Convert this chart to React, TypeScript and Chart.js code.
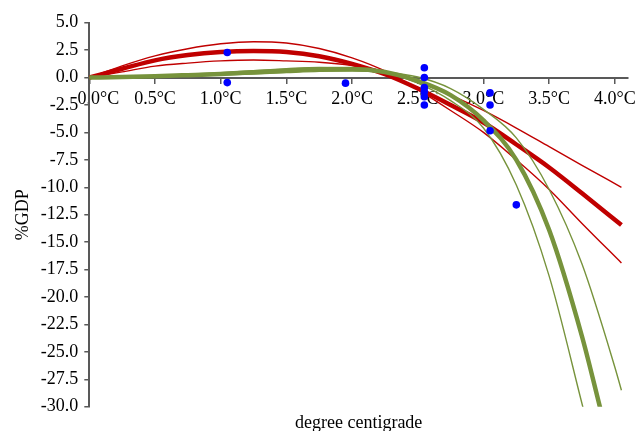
import React, { useEffect, useRef } from "react";
import { Chart, registerables } from "chart.js";

Chart.register(...registerables);

// ---- axis ticks ----
const X_TICKS = [0, 0.5, 1.0, 1.5, 2.0, 2.5, 3.0, 3.5, 4.0];
const X_TICK_LABELS = ["0.0°C", "0.5°C", "1.0°C", "1.5°C", "2.0°C", "2.5°C", "3.0°C", "3.5°C", "4.0°C"];
const Y_TICKS = [5, 2.5, 0, -2.5, -5, -7.5, -10, -12.5, -15, -17.5, -20, -22.5, -25, -27.5, -30];
const Y_TICK_LABELS = ["5.0", "2.5", "0.0", "-2.5", "-5.0", "-7.5", "-10.0", "-12.5", "-15.0", "-17.5", "-20.0", "-22.5", "-25.0", "-27.5", "-30.0"];

// ---- red damage curves (temperature, %GDP) ----
const RED_T = [0, 0.25, 0.5, 0.75, 1.0, 1.25, 1.5, 1.75, 2.0, 2.25, 2.5, 2.75, 3.0, 3.25, 3.5, 3.75, 4.05];
const RED_CENTRAL = [0, 0.8, 1.57, 2.05, 2.33, 2.42, 2.33, 1.95, 1.25, 0.3, -1.0, -2.5, -4.1, -6.1, -8.2, -10.55, -13.45];
const RED_HIGH = [0, 1.07, 1.98, 2.63, 3.08, 3.27, 3.15, 2.65, 1.8, 0.6, -1.1, -3.0, -5.0, -7.5, -10.2, -13.3, -16.9];
const RED_LOW = [0, 0.52, 1.04, 1.32, 1.52, 1.6, 1.52, 1.4, 1.1, 0.55, -0.4, -1.6, -3.0, -4.6, -6.3, -8.0, -10.0];

// ---- green damage curves ----
const GREEN_CENTRAL_T = [0, 0.25, 0.5, 0.75, 1.0, 1.25, 1.5, 1.75, 2.0, 2.25, 2.5, 2.75, 3.0, 3.25, 3.5, 3.75, 3.89];
const GREEN_CENTRAL = [0, 0.05, 0.12, 0.22, 0.33, 0.48, 0.63, 0.76, 0.78, 0.5, -0.3, -1.6, -3.9, -7.5, -13.9, -23.6, -30.2];
const GREEN_STEEP_T = [0, 0.25, 0.5, 0.75, 1.0, 1.25, 1.5, 1.75, 2.0, 2.25, 2.5, 2.75, 3.0, 3.25, 3.5, 3.76];
const GREEN_STEEP = [0, 0.07, 0.17, 0.3, 0.45, 0.62, 0.8, 0.93, 0.9, 0.5, -0.5, -2.1, -4.6, -9.8, -18.1, -30.2];
const GREEN_SHALLOW_T = [0, 0.25, 0.5, 0.75, 1.0, 1.25, 1.5, 1.75, 2.0, 2.25, 2.5, 2.75, 3.0, 3.25, 3.5, 3.75, 4.0, 4.05];
const GREEN_SHALLOW = [0, 0.02, 0.06, 0.13, 0.22, 0.33, 0.45, 0.56, 0.6, 0.48, 0.05, -1.0, -2.9, -5.5, -10.2, -17.0, -26.4, -28.5];

// ---- study estimates (blue dots) ----
const STUDY_T = [1.05, 1.05, 1.95, 2.55, 2.55, 2.55, 2.55, 2.55, 2.55, 3.05, 3.05, 3.05, 3.25];
const STUDY_GDP = [2.28, -0.46, -0.51, 0.9, 0.0, -0.9, -1.3, -1.75, -2.5, -1.4, -2.5, -4.85, -11.6];

const RED = "#C00000";
const GREEN = "#77933C";
const BLUE = "#0000FF";
const AXIS = "#595959";
const FONT = "'Liberation Serif', 'Times New Roman', serif";

const pts = (xs: number[], ys: number[]) => xs.map((x, i) => ({ x, y: ys[i] }));

const curve = (xs: number[], ys: number[], color: string, width: number) => ({
  data: pts(xs, ys),
  showLine: true,
  borderColor: color,
  backgroundColor: color,
  borderWidth: width,
  pointRadius: 0,
  pointHoverRadius: 0,
  cubicInterpolationMode: "monotone" as const,
  fill: false,
  xAxisID: "x",
  yAxisID: "y",
});

export default function App() {
  const ref = useRef<HTMLCanvasElement | null>(null);

  useEffect(() => {
    if (!ref.current) return;
    const chart = new Chart(ref.current, {
      type: "scatter",
      data: {
        datasets: [
          {
            data: pts(STUDY_T, STUDY_GDP),
            showLine: false,
            pointRadius: 3.8,
            pointBackgroundColor: BLUE,
            pointBorderWidth: 0,
            backgroundColor: BLUE,
            borderColor: BLUE,
            xAxisID: "x",
            yAxisID: "y",
          },
          curve(GREEN_CENTRAL_T, GREEN_CENTRAL, GREEN, 4.5),
          curve(GREEN_STEEP_T, GREEN_STEEP, GREEN, 1.4),
          curve(GREEN_SHALLOW_T, GREEN_SHALLOW, GREEN, 1.4),
          curve(RED_T, RED_CENTRAL, RED, 4.5),
          curve(RED_T, RED_HIGH, RED, 1.4),
          curve(RED_T, RED_LOW, RED, 1.4),
        ] as any,
      },
      options: {
        animation: false,
        responsive: true,
        maintainAspectRatio: false,
        events: [],
        layout: { autoPadding: false, padding: { left: 6, top: 22.7, right: 7, bottom: 0 } },
        plugins: {
          legend: { display: false },
          tooltip: { enabled: false },
        },
        scales: {
          x: {
            type: "linear",
            min: 0,
            max: 4.1,
            position: { y: 0 } as any,
            afterBuildTicks: (scale: any) => {
              scale.ticks = X_TICKS.map((v) => ({ value: v }));
            },
            afterFit: (scale: any) => {
              scale.paddingLeft = 0;
              scale.paddingRight = 0;
            },
            ticks: {
              color: "#000",
              font: { family: FONT, size: 18 },
              padding: 6,
              maxRotation: 0,
              autoSkip: false,
              callback: (value: any, index: number) => {
                const label = X_TICK_LABELS[index] ?? "";
                return index === 0 ? "\u00a0\u00a0\u00a0\u00a0" + label : label;
              },
            },
            grid: {
              drawOnChartArea: false,
              drawTicks: true,
              tickLength: 5,
              color: AXIS,
              lineWidth: 1.5,
            },
            border: { display: true, color: AXIS, width: 2 },
          },
          x2: {
            type: "linear",
            position: "bottom",
            min: 0,
            max: 1,
            afterFit: (scale: any) => {
              scale.height = 24.3;
              scale.paddingLeft = 0;
              scale.paddingRight = 0;
            },
            ticks: { display: false },
            grid: { display: false },
            border: { display: false },
            title: {
              display: true,
              text: "degree centigrade",
              color: "#000",
              font: { family: FONT, size: 18 },
              padding: { top: 0, bottom: -3 },
            },
          },
          y: {
            type: "linear",
            min: -30,
            max: 5,
            position: "left",
            afterBuildTicks: (scale: any) => {
              scale.ticks = Y_TICKS.map((v) => ({ value: v }));
            },
            afterFit: (scale: any) => {
              scale.width = 83.3;
            },
            ticks: {
              color: "#000",
              font: { family: FONT, size: 18 },
              padding: 6,
              autoSkip: false,
              callback: (value: any, index: number) => Y_TICK_LABELS[index] ?? "",
            },
            grid: {
              drawOnChartArea: false,
              drawTicks: true,
              tickLength: 5,
              color: AXIS,
              lineWidth: 1.5,
            },
            border: { display: true, color: AXIS, width: 2 },
            title: {
              display: true,
              text: "%GDP",
              color: "#000",
              font: { family: FONT, size: 18 },
              padding: { top: 6, bottom: 4 },
            },
          },
        },
      } as any,
    });
    return () => chart.destroy();
  }, []);

  return (
    <div style={{ position: "fixed", left: 0, top: 0, width: 635, height: 431, background: "#fff" }}>
      <canvas ref={ref} />
    </div>
  );
}
